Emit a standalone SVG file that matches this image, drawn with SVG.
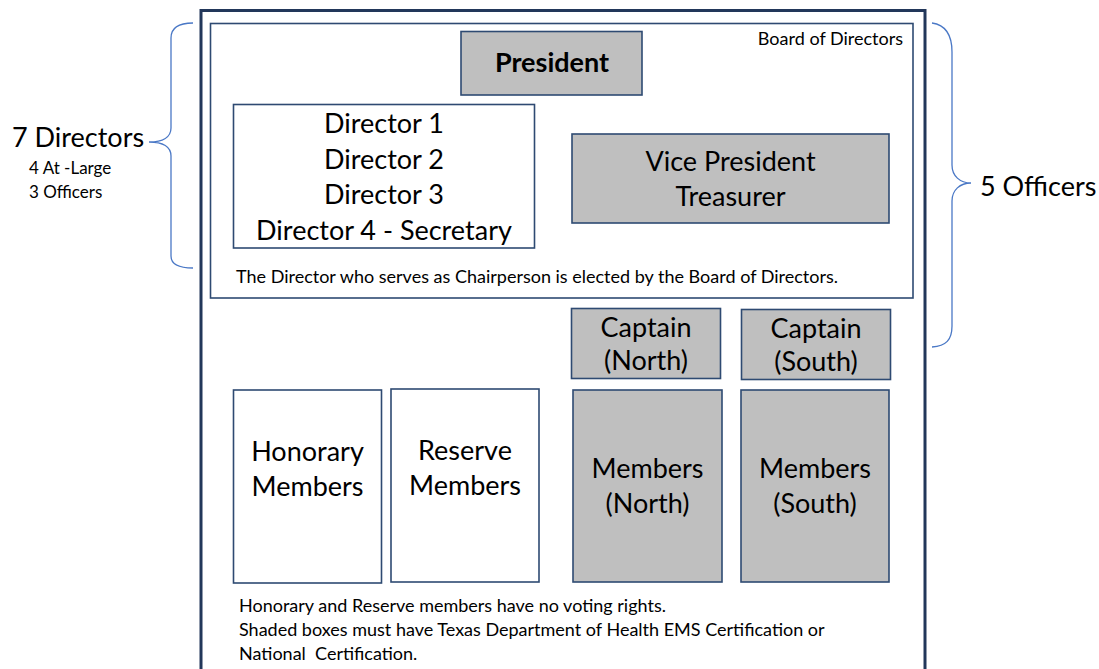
<svg xmlns="http://www.w3.org/2000/svg" width="1099" height="669" viewBox="0 0 1099 669">
  <style>
    text { font-family: Lato, "Open Sans", sans-serif; fill: #000; white-space: pre; }
    .box { stroke: #2E4A72; stroke-width: 1.6; }
    .plain { fill: #FFFFFF; }
    .shade { fill: #BFBFBF; }
    .big { font-size: 27px; text-anchor: middle; }
    .note { font-size: 18px; }
    .brace { fill: none; stroke: #4A78C6; stroke-width: 1.3; }
  </style>
  <rect width="1099" height="669" fill="#FFFFFF"/>

  <!-- organisation frame -->
  <rect id="frame" x="201" y="10.5" width="724" height="720" fill="none" stroke="#22375A" stroke-width="3"/>

  <!-- board of directors -->
  <g id="board">
    <rect class="box plain" x="210.5" y="23.5" width="702.5" height="274.5"/>
    <text class="note" x="903" y="45" text-anchor="end">Board of Directors</text>
    <text class="note" x="236" y="283">The Director who serves as Chairperson is elected by the Board of Directors.</text>
  </g>

  <g id="president">
    <rect class="box shade" x="461" y="31.5" width="181" height="63.5"/>
    <text class="big" x="552" y="72" font-weight="bold" font-size="26">President</text>
  </g>

  <g id="directors">
    <rect class="box plain" x="233.5" y="104.5" width="301" height="143.5"/>
    <text class="big" x="384" y="133">Director 1</text>
    <text class="big" x="384" y="169">Director 2</text>
    <text class="big" x="384" y="204">Director 3</text>
    <text class="big" x="384" y="240">Director 4 - Secretary</text>
  </g>

  <g id="vice-president">
    <rect class="box shade" x="572" y="134" width="317" height="89"/>
    <text class="big" x="730.5" y="171">Vice President</text>
    <text class="big" x="730.5" y="206">Treasurer</text>
  </g>

  <g id="captain-north">
    <rect class="box shade" x="571.5" y="308.5" width="149" height="70"/>
    <text class="big" x="646" y="337">Captain</text>
    <text class="big" x="646" y="370">(North)</text>
  </g>

  <g id="captain-south">
    <rect class="box shade" x="741.5" y="309.5" width="149" height="70"/>
    <text class="big" x="816" y="338">Captain</text>
    <text class="big" x="816" y="371">(South)</text>
  </g>

  <g id="honorary">
    <rect class="box plain" x="233.5" y="390" width="148" height="193"/>
    <text class="big" x="307.5" y="461">Honorary</text>
    <text class="big" x="307.5" y="496">Members</text>
  </g>

  <g id="reserve">
    <rect class="box plain" x="391" y="389" width="148" height="193"/>
    <text class="big" x="465" y="460">Reserve</text>
    <text class="big" x="465" y="495">Members</text>
  </g>

  <g id="members-north">
    <rect class="box shade" x="573" y="390" width="149" height="192"/>
    <text class="big" x="647.5" y="478">Members</text>
    <text class="big" x="647.5" y="513">(North)</text>
  </g>

  <g id="members-south">
    <rect class="box shade" x="741" y="390" width="148" height="192"/>
    <text class="big" x="815" y="478">Members</text>
    <text class="big" x="815" y="513">(South)</text>
  </g>

  <!-- footnotes -->
  <g id="notes">
    <text class="note" x="239" y="612">Honorary and Reserve members have no voting rights.</text>
    <text class="note" x="239" y="636">Shaded boxes must have Texas Department of Health EMS Certification or</text>
    <text class="note" x="239" y="660">National  Certification.</text>
  </g>

  <!-- braces -->
  <g id="connectors">
    <path class="brace" d="M193,23 C179,23 171,27 171,38 L171,128 C171,137 163,142 149,142 C163,142 171,147 171,156 L171,256 C171,265 179,268 193,268"/>
    <path class="brace" d="M932,23 C946,25 952,35 952,52 L952,165 C952,176 960,183 971,183 C960,183 952,190 952,201 L952,326 C952,340 946,346 932,347"/>
  </g>

  <g id="directors-label">
    <text x="12" y="147" font-size="27">7 Directors</text>
    <text x="29" y="174" font-size="17">4 At -Large</text>
    <text x="29" y="198" font-size="17">3 Officers</text>
  </g>

  <g id="officers-label">
    <text x="980" y="196" font-size="27">5 Officers</text>
  </g>
</svg>
